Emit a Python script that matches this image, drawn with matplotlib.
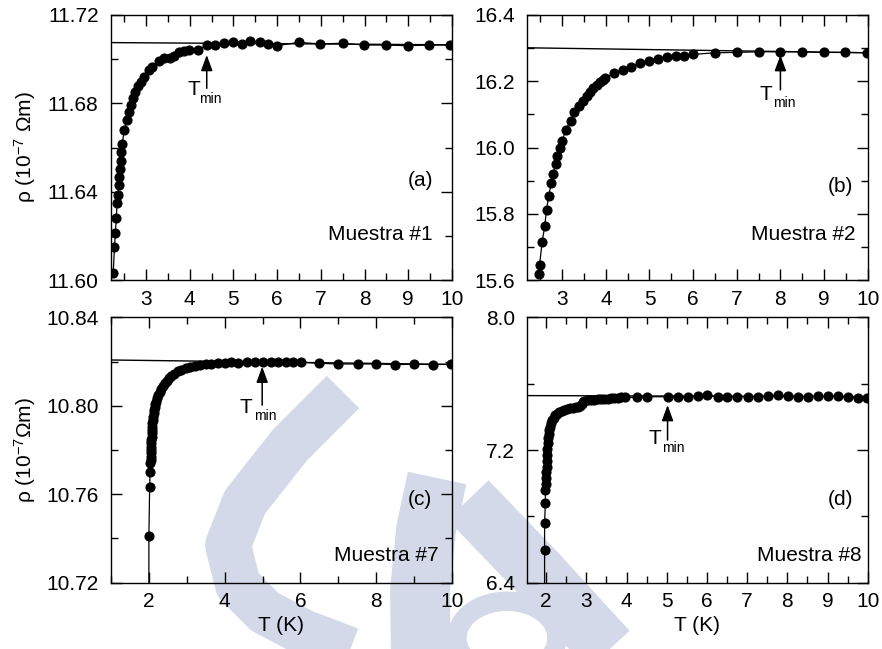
import matplotlib
matplotlib.use("Agg")
import matplotlib.pyplot as plt
from matplotlib.ticker import MultipleLocator
from matplotlib.lines import Line2D
from matplotlib.patches import Circle

plt.rcParams['font.family'] = ['Liberation Sans', 'DejaVu Sans']
plt.rcParams['mathtext.fontset'] = 'custom'
plt.rcParams['mathtext.rm'] = 'Liberation Sans'
plt.rcParams['mathtext.it'] = 'Liberation Sans:italic'
plt.rcParams['mathtext.bf'] = 'Liberation Sans:bold'

# ---------------- data ----------------
# (a) Muestra #1
T_a = [2.25, 2.28, 2.30, 2.32, 2.34, 2.36, 2.38, 2.39, 2.40, 2.42, 2.43, 2.46, 2.50, 2.57,
       2.62, 2.66, 2.71, 2.76, 2.82, 2.88, 2.95, 3.07, 3.14, 3.30, 3.41, 3.55, 3.64, 3.76,
       3.87, 3.99, 4.18, 4.39, 4.58, 4.78, 4.99, 5.19, 5.39, 5.60, 5.79, 6.00, 6.49, 6.99,
       7.50, 7.99, 8.49, 8.99, 9.48, 9.96]
rho_a = [11.6030, 11.6151, 11.6211, 11.6279, 11.6350, 11.6385, 11.6430, 11.6468, 11.6503,
         11.6539, 11.6581, 11.6616, 11.6680, 11.6725, 11.6762, 11.6792, 11.6823, 11.6853,
         11.6878, 11.6898, 11.6921, 11.6951, 11.6966, 11.6993, 11.7004, 11.7004, 11.7014,
         11.7031, 11.7038, 11.7042, 11.7042, 11.7062, 11.7062, 11.7072, 11.7079, 11.7069,
         11.7082, 11.7079, 11.7069, 11.7061, 11.7076, 11.7069, 11.7072, 11.7064, 11.7064,
         11.7061, 11.7064, 11.7064]

# (b) Muestra #2
T_b = [2.47, 2.48, 2.54, 2.60, 2.64, 2.69, 2.75, 2.79, 2.85, 2.89, 2.94, 3.00, 3.08, 3.19,
       3.28, 3.38, 3.47, 3.56, 3.64, 3.71, 3.79, 3.86, 3.94, 3.99, 4.19, 4.39, 4.58, 4.78,
       4.99, 5.19, 5.39, 5.60, 5.80, 6.00, 6.50, 7.00, 7.50, 8.00, 8.49, 8.99, 9.48, 9.98]
rho_b = [15.617, 15.645, 15.714, 15.764, 15.811, 15.854, 15.892, 15.920, 15.950, 15.974,
         15.998, 16.020, 16.053, 16.081, 16.106, 16.125, 16.141, 16.156, 16.168, 16.179,
         16.189, 16.197, 16.204, 16.211, 16.224, 16.234, 16.244, 16.254, 16.261, 16.268,
         16.272, 16.276, 16.277, 16.281, 16.286, 16.287, 16.289, 16.289, 16.289, 16.287,
         16.287, 16.286]

# (c) Muestra #7
T_c = [2.00, 2.00, 2.02, 2.03, 2.040, 2.044, 2.048, 2.052, 2.056, 2.060, 2.064, 2.068, 2.072,
       2.076, 2.080, 2.086, 2.093, 2.100, 2.110, 2.122, 2.135, 2.150, 2.170, 2.194, 2.220,
       2.250, 2.282, 2.320, 2.365, 2.414, 2.470, 2.530, 2.590, 2.670, 2.760, 2.855, 2.970,
       3.090, 3.207, 3.350, 3.500, 3.648, 3.820, 4.000, 4.176, 4.34, 4.58, 4.80, 5.02, 5.22,
       5.42, 5.61, 5.81, 6.02, 6.50, 7.00, 7.51, 8.00, 8.50, 9.00, 9.50, 9.97]
rho_c = [10.7000, 10.7411, 10.7631, 10.7699, 10.7740, 10.7755, 10.7770, 10.7785, 10.7800,
         10.7815, 10.7830, 10.7845, 10.7860, 10.7875, 10.7890, 10.7905, 10.7920, 10.7935,
         10.7950, 10.7966, 10.7980, 10.7993, 10.8006, 10.8019, 10.8033, 10.8048, 10.8064,
         10.8076, 10.8089, 10.8101, 10.8113, 10.8124, 10.8135, 10.8145, 10.8155, 10.8163,
         10.8170, 10.8176, 10.8181, 10.8185, 10.8188, 10.8190, 10.8193, 10.8195, 10.8196,
         10.8195, 10.8197, 10.8197, 10.8199, 10.8197, 10.8197, 10.8197, 10.8197, 10.8197,
         10.8192, 10.8189, 10.8189, 10.8189, 10.8186, 10.8188, 10.8186, 10.8188]

# (d) Muestra #8
T_d = [1.96, 1.96, 1.96, 1.98, 1.98, 1.99, 2.000, 2.005, 2.010, 2.016, 2.022, 2.030, 2.040,
       2.052, 2.066, 2.080, 2.100, 2.125, 2.155, 2.190, 2.230, 2.280, 2.330, 2.390, 2.450,
       2.520, 2.590, 2.660, 2.730, 2.800, 2.850, 2.880, 2.905, 2.950, 3.030, 3.110, 3.200,
       3.280, 3.360, 3.450, 3.530, 3.610, 3.690, 3.780, 3.860, 3.950, 4.27, 4.52, 5.02, 5.27,
       5.52, 5.77, 6.00, 6.27, 6.51, 6.76, 7.01, 7.26, 7.51, 7.76, 8.01, 8.26, 8.51, 8.76,
       9.00, 9.25, 9.50, 9.75, 9.98]
rho_d = [6.20, 6.597, 6.762, 6.878, 6.959, 6.995, 7.030, 7.065, 7.100, 7.135, 7.170, 7.205,
         7.240, 7.270, 7.297, 7.320, 7.340, 7.360, 7.378, 7.394, 7.408, 7.420, 7.430, 7.437,
         7.443, 7.448, 7.451, 7.454, 7.457, 7.461, 7.468, 7.478, 7.490, 7.497, 7.501, 7.503,
         7.504, 7.505, 7.507, 7.509, 7.510, 7.511, 7.513, 7.515, 7.517, 7.518, 7.517, 7.521,
         7.521, 7.517, 7.517, 7.527, 7.531, 7.521, 7.521, 7.521, 7.521, 7.521, 7.527, 7.531,
         7.525, 7.521, 7.521, 7.525, 7.525, 7.525, 7.517, 7.515, 7.515]

# fit lines (endpoints)
fit_T = [[2.2, 10.0], [2.2, 10.0], [1.0, 10.0], [1.5, 10.0]]
fit_rho = [[11.7075, 11.7065], [16.301, 16.286], [10.8207, 10.8187], [7.528, 7.522]]

# T_min arrows: (T, rho_tail, rho_tip)
tmin_arrow = [(4.39, 11.6868, 11.7019), (8.0, 16.174, 16.279), (4.99, 10.8003, 10.8177),
              (5.02, 7.26, 7.471)]
# T_min labels: (T_left, baseline, min_left, min_baseline)
tmin_text = [(3.94, 11.6838, 4.22, 11.6800), (7.53, 16.143, 7.84, 16.121),
             (4.40, 10.7966, 4.78, 10.7936), (4.545, 7.236, 4.88, 7.19)]

panel_tags = ['(a)', '(b)', '(c)', '(d)']
samples = ['Muestra #1', 'Muestra #2', 'Muestra #7', 'Muestra #8']
xlims = [(2.2, 10), (2.2, 10), (1.0, 10), (1.53, 10)]
ylims = [(11.60, 11.72), (15.6, 16.4), (10.72, 10.84), (6.4, 8.0)]
yticks = [[11.60, 11.64, 11.68, 11.72], [15.6, 15.8, 16.0, 16.2, 16.4],
          [10.72, 10.76, 10.80, 10.84], [6.4, 7.2, 8.0]]
yfmt = ['%.2f', '%.1f', '%.2f', '%.1f']
ymin = [0.02, 0.1, 0.02, 0.4]
xmin_ = [0.5, 0.5, 1, 0.5]
xticks = [[3, 4, 5, 6, 7, 8, 9, 10], [3, 4, 5, 6, 7, 8, 9, 10],
          [2, 4, 6, 8, 10], [2, 3, 4, 5, 6, 7, 8, 9, 10]]
tag_pos = [(0.944, 0.377), (0.958, 0.352), (0.942, 0.312), (0.958, 0.312)]
sample_pos = [(0.944, 0.17), (0.965, 0.17), (0.962, 0.104), (0.982, 0.104)]

Ts = [T_a, T_b, T_c, T_d]
rhos = [rho_a, rho_b, rho_c, rho_d]

W, H = 882, 649
fig = plt.figure(figsize=(W / 100, H / 100), dpi=100)

# faint background watermark (pixel coords of the figure)
WM = '#d3d9e8'
def fx(x):
    return x / W
def fy(y):
    return 1 - y / H
wm_strokes = [
    ([343, 290, 245, 228, 238, 265, 303, 350], [392, 445, 502, 545, 585, 612, 632, 650], 33),
    ([437, 426, 420, 421], [478, 530, 590, 670], 43),
    ([468, 540, 625], [500, 575, 668], 41),
]
for xs, ys, lw in wm_strokes:
    fig.add_artist(Line2D([fx(v) for v in xs], [fy(v) for v in ys], color=WM, lw=lw,
                          solid_capstyle='butt', solid_joinstyle='round', zorder=-5))
fig.add_artist(Circle((fx(507), fy(638)), 50 / W, transform=fig.transFigure, fill=False,
                      ec=WM, lw=14, zorder=-5))

boxes = [(111, 15, 452, 280), (527.3, 15, 867.7, 280),
         (111, 317.3, 452, 582.7), (527.3, 317.3, 867.7, 582.7)]
FS = 15
for i in range(4):
    x0, y0, x1, y1 = boxes[i]
    ax = fig.add_axes([x0 / W, 1 - y1 / H, (x1 - x0) / W, (y1 - y0) / H])
    ax.patch.set_alpha(0)
    ax.plot(fit_T[i], fit_rho[i], color='k', lw=1.0, zorder=2)
    ax.plot(Ts[i], rhos[i], color='k', lw=0.9, marker='o', ms=6.3, mec='k', mfc='k',
            zorder=3)
    ax.set_xlim(*xlims[i])
    ax.set_ylim(*ylims[i])
    ax.set_xticks(xticks[i])
    ax.set_xticklabels([str(v) for v in xticks[i]])
    ax.xaxis.set_minor_locator(MultipleLocator(xmin_[i]))
    ax.set_yticks(yticks[i])
    ax.set_yticklabels([yfmt[i] % v for v in yticks[i]])
    ax.yaxis.set_minor_locator(MultipleLocator(ymin[i]))
    ax.tick_params(which='both', direction='in', top=True, right=True, width=1.0,
                   labelsize=FS)
    ax.tick_params(which='major', length=8)
    ax.tick_params(which='minor', length=5)
    ax.tick_params(axis='y', which='major', pad=9)
    ax.tick_params(axis='x', which='major', pad=7)
    for s in ax.spines.values():
        s.set_linewidth(1.0)
    # arrow
    ta, r0, r1 = tmin_arrow[i]
    ax.annotate('', xy=(ta, r1), xytext=(ta, r0),
                arrowprops=dict(arrowstyle='-|>,head_length=0.6,head_width=0.22',
                                color='k', lw=1.1, mutation_scale=16,
                                shrinkA=0, shrinkB=0), zorder=4)
    tl, tb, ml, mb = tmin_text[i]
    ax.text(tl, tb, 'T', fontsize=FS, ha='left', va='baseline')
    ax.text(ml, mb, 'min', fontsize=10, ha='left', va='baseline')
    ax.text(*tag_pos[i], panel_tags[i], transform=ax.transAxes, fontsize=FS,
            ha='right', va='center')
    ax.text(*sample_pos[i], samples[i], transform=ax.transAxes, fontsize=FS,
            ha='right', va='center')
    if i == 0:
        ax.set_ylabel(r'ρ (10$^{-7}$ Ωm)', fontsize=FS)
        ax.yaxis.set_label_coords(-0.215, 0.5)
    if i == 2:
        ax.set_ylabel(r'ρ (10$^{-7}$Ωm)', fontsize=FS)
        ax.yaxis.set_label_coords(-0.215, 0.5)
    if i >= 2:
        ax.set_xlabel('T (K)', fontsize=FS, labelpad=3)

fig.savefig('out.png', dpi=100)
